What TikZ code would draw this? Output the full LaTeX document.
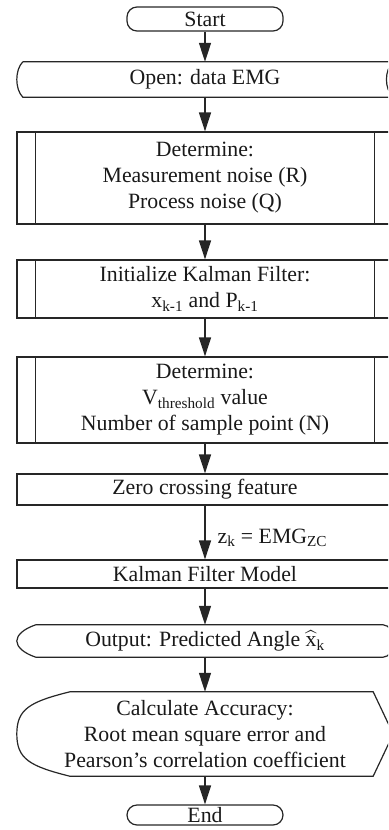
\documentclass[tikz,border=0pt]{standalone}
\usepackage{amsmath}
\usepackage{fontspec}
\setmainfont{Liberation Serif}
\usepackage{tikz}
\usetikzlibrary{arrows.meta}
\usetikzlibrary{positioning}
\tikzstyle{arrow} = [line width=1.4bp,draw=black!85,-{Triangle[length=19bp,width=12bp]}]
\tikzstyle{box} = [line width=1.2bp,draw=black!85]
\tikzstyle{txt} = [inner sep=0pt,align=center,text=black!90,font=\fontsize{21.8bp}{26bp}\selectfont]
\tikzstyle{wide} = [minimum width=376bp]

\begin{document}
\begin{tikzpicture}[x=1bp,y=-1bp]

    \useasboundingbox (0,0) rectangle (388,830);
    \clip (0,0) rectangle (388,830); % the chart runs off the right edge

    % terminators
    \node[txt,box,rounded corners=10bp,minimum width=156bp,minimum height=24bp] (start) at (205,19) {Start};
    \node[txt,box,rounded corners=10bp,minimum width=156bp,minimum height=20bp] (stop) at (205,815) {End};

    % boxes, top to bottom
    \node[txt,wide,minimum height=35bp] (open) at (205,79.5) {Open: data EMG};
    \node[txt,wide,box,minimum height=92bp] (detnoise) at (205,178)
        {Determine:\\Measurement noise (R)\\Process noise (Q)};
    \node[txt,wide,box,minimum height=58bp] (init) at (205,289)
        {Initialize Kalman Filter:\\x\textsubscript{k-1} and P\textsubscript{k-1}};
    \node[txt,wide,box,minimum height=86bp] (detthresh) at (205,400)
        {Determine:\\V\textsubscript{threshold} value\\Number of sample point (N)};
    \node[txt,wide,box,minimum height=31bp] (zc) at (205,489.5) {Zero crossing feature};
    \node[txt,wide,box,minimum height=28bp] (kf) at (205,574) {Kalman Filter Model};
    \node[txt,wide,minimum height=32bp] (out) at (205,641)
        {Output: Predicted Angle $\widehat{\text{x}}_{\text{k}}$};
    \node[txt,wide,minimum height=84bp] (acc) at (205,734)
        {Calculate Accuracy:\\Root mean square error and\\Pearson's correlation coefficient};

    % stored data outline
    \draw[box] ([xshift=6bp]open.north west) -- (open.north east)
        .. controls +(-9,8) and +(-9,-8) .. (open.south east)
        -- ([xshift=6bp]open.south west)
        .. controls +(-8,-8) and +(-8,8) .. ([xshift=6bp]open.north west);

    % subroutine side bars
    \foreach \n in {detnoise,init,detthresh}{%
      \draw[box] ([xshift=19bp]\n.north west) -- ([xshift=19bp]\n.south west);
      \draw[box] ([xshift=-19bp]\n.north east) -- ([xshift=-19bp]\n.south east);
    }

    % display outline
    \draw[box] ([xshift=19bp]out.north west) -- ([xshift=-10bp]out.north east)
        .. controls +(13,0) and +(13,0) .. ([xshift=-10bp]out.south east)
        -- ([xshift=19bp]out.south west)
        .. controls +(-12,-4) and +(0,6) .. (out.west)
        .. controls +(0,-6) and +(-12,4) .. ([xshift=19bp]out.north west);

    % accuracy outline
    \draw[box] ([xshift=53bp]acc.north west) -- ([xshift=-20bp]acc.north east)
        -- (acc.east) -- ([xshift=-20bp]acc.south east)
        -- ([xshift=53bp]acc.south west)
        .. controls +(-40,-10) and +(0,25) .. (acc.west)
        .. controls +(0,-25) and +(-40,10) .. ([xshift=53bp]acc.north west);

    % flow
    \foreach \a/\b in {start/open,open/detnoise,detnoise/init,init/detthresh,
                       detthresh/zc,kf/out,out/acc,acc/stop}{%
      \draw[arrow] (\a) -- (\b);
    }
    \draw[arrow] (zc) -- node[txt,right=12bp,pos=0.6] (zlabel)
        {z\textsubscript{k} = EMG\textsubscript{ZC}} (kf);

\end{tikzpicture}
\end{document}
